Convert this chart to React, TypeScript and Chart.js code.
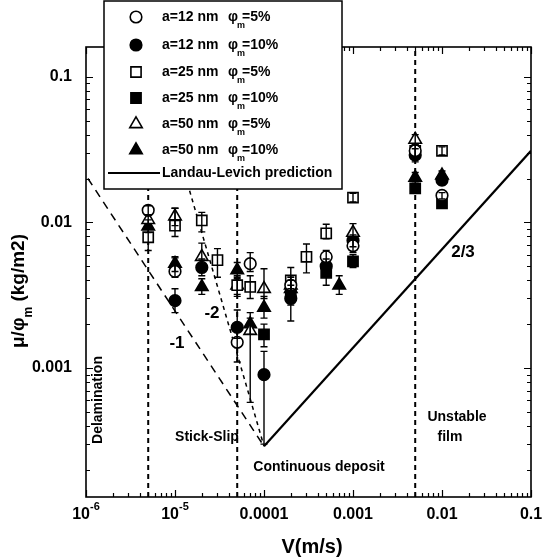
import React, { useEffect, useRef } from "react";
import { Chart, registerables } from "chart.js";

Chart.register(...registerables);

const FONT = "'Liberation Sans', Arial, Helvetica, sans-serif";

// ---- axes ----
const X_MIN = 1e-6;
const X_MAX = 0.1;
const Y_MIN = 1.3e-4;
const Y_MAX = 0.16;
const xTickValues = [1e-6, 1e-5, 1e-4, 1e-3, 1e-2, 1e-1];
const xTickBase = ["10", "10", "0.0001", "0.001", "0.01", "0.1"];
const xTickExp = ["-6", "-5", "", "", "", ""];
const yTickValues = [0.001, 0.01, 0.1];
const yTickLabels = ["0.001", "0.01", "0.1"];

// ---- data: a=12 nm, phi=5% (open circles) ----
const a12p5V = [5e-6, 1e-5, 5e-5, 7e-5, 2e-4, 5e-4, 1e-3, 5e-3, 1e-2];
const a12p5Mu = [0.0121, 0.0046, 0.0015, 0.0052, 0.0037, 0.0058, 0.0069, 0.031, 0.0153];
const a12p5Lo = [0.0112, 0.0042, 0.0011, 0.0046, 0.0033, 0.0052, 0.0062, 0.028, 0.0145];
const a12p5Hi = [0.013, 0.0057, 0.0019, 0.0062, 0.0042, 0.0064, 0.0076, 0.034, 0.016];

// a=12 nm, phi=10% (filled circles)
const a12p10V = [1e-5, 2e-5, 5e-5, 1e-4, 2e-4, 5e-4, 1e-3, 5e-3, 1e-2];
const a12p10Mu = [0.0029, 0.0049, 0.0019, 0.0009, 0.003, 0.005, 0.0075, 0.029, 0.0195];
const a12p10Lo = [0.0024, 0.0043, 0.0016, 0.0003, 0.0021, 0.0045, 0.0068, 0.026, 0.018];
const a12p10Hi = [0.0035, 0.0056, 0.0025, 0.0013, 0.0035, 0.0056, 0.0082, 0.032, 0.021];

// a=25 nm, phi=5% (open squares)
const a25p5V = [5e-6, 1e-5, 2e-5, 3e-5, 5e-5, 7e-5, 2e-4, 3e-4, 5e-4, 1e-3, 5e-3, 1e-2];
const a25p5Mu = [0.0079, 0.0095, 0.0103, 0.0055, 0.0037, 0.0036, 0.004, 0.0058, 0.0084, 0.0148, 0.031, 0.031];
const a25p5Lo = [0.0064, 0.008, 0.0086, 0.0042, 0.0031, 0.003, 0.0034, 0.0045, 0.0077, 0.0138, 0.028, 0.029];
const a25p5Hi = [0.009, 0.0125, 0.0117, 0.0066, 0.0043, 0.0043, 0.0049, 0.0071, 0.0097, 0.0158, 0.034, 0.033];

// a=25 nm, phi=10% (filled squares)
const a25p10V = [1e-4, 2e-4, 5e-4, 1e-3, 5e-3, 1e-2];
const a25p10Mu = [0.0017, 0.0032, 0.0045, 0.0054, 0.0171, 0.0135];
const a25p10Lo = [0.0014, 0.0027, 0.0037, 0.0049, 0.016, 0.0128];
const a25p10Hi = [0.002, 0.0037, 0.005, 0.006, 0.0185, 0.0142];

// a=50 nm, phi=5% (open triangles)
const a50p5V = [5e-6, 1e-5, 2e-5, 5e-5, 7e-5, 1e-4, 2e-4, 1e-3, 5e-3];
const a50p5Mu = [0.0104, 0.011, 0.0058, 0.0037, 0.0018, 0.0035, 0.0037, 0.0085, 0.037];
const a50p5Lo = [0.0095, 0.0095, 0.0051, 0.0032, 0.00058, 0.003, 0.0032, 0.0077, 0.034];
const a50p5Hi = [0.0113, 0.0125, 0.0072, 0.0042, 0.0022, 0.0048, 0.0043, 0.0098, 0.04];

// a=50 nm, phi=10% (filled triangles)
const a50p10V = [5e-6, 1e-5, 2e-5, 5e-5, 7e-5, 1e-4, 2e-4, 7e-4, 5e-3, 1e-2];
const a50p10Mu = [0.0094, 0.0052, 0.0036, 0.0047, 0.002, 0.0026, 0.0035, 0.0037, 0.0203, 0.021];
const a50p10Lo = [0.0085, 0.0046, 0.0032, 0.0041, 0.0017, 0.0022, 0.003, 0.0032, 0.0185, 0.0195];
const a50p10Hi = [0.0104, 0.0058, 0.0041, 0.0053, 0.0024, 0.0031, 0.004, 0.0043, 0.022, 0.0225];

// ---- guide lines ----
const regimeBoundaries = [5e-6, 5e-5, 5e-3];
const llV = [1e-4, 0.1];
const llMu = [2.9e-4, 0.031];
const slopeM1V = [1.05e-6, 1e-4];
const slopeM1Mu = [0.02, 2.9e-4];
const slopeM2V = [1.3e-5, 1e-4];
const slopeM2Mu = [0.021, 2.9e-4];

type Style = "circle" | "rect" | "triangle";
interface Series {
  name: string;
  phi: string;
  v: number[];
  mu: number[];
  lo: number[];
  hi: number[];
  style: Style;
  filled: boolean;
}

const SERIES: Series[] = [
  { name: "a=12 nm", phi: "=5%", v: a12p5V, mu: a12p5Mu, lo: a12p5Lo, hi: a12p5Hi, style: "circle", filled: false },
  { name: "a=12 nm", phi: "=10%", v: a12p10V, mu: a12p10Mu, lo: a12p10Lo, hi: a12p10Hi, style: "circle", filled: true },
  { name: "a=25 nm", phi: "=5%", v: a25p5V, mu: a25p5Mu, lo: a25p5Lo, hi: a25p5Hi, style: "rect", filled: false },
  { name: "a=25 nm", phi: "=10%", v: a25p10V, mu: a25p10Mu, lo: a25p10Lo, hi: a25p10Hi, style: "rect", filled: true },
  { name: "a=50 nm", phi: "=5%", v: a50p5V, mu: a50p5Mu, lo: a50p5Lo, hi: a50p5Hi, style: "triangle", filled: false },
  { name: "a=50 nm", phi: "=10%", v: a50p10V, mu: a50p10Mu, lo: a50p10Lo, hi: a50p10Hi, style: "triangle", filled: true },
];

const R_CIRCLE = 5.8;
const R_RECT = 7.2;
const R_TRI = 7.2;

function radiusFor(s: Style) {
  return s === "circle" ? R_CIRCLE : s === "rect" ? R_RECT : R_TRI;
}

function drawMarker(ctx: CanvasRenderingContext2D, style: Style, filled: boolean, x: number, y: number) {
  ctx.beginPath();
  if (style === "circle") {
    ctx.arc(x, y, R_CIRCLE, 0, Math.PI * 2);
  } else if (style === "rect") {
    const s = R_RECT * Math.SQRT1_2;
    ctx.rect(x - s, y - s, 2 * s, 2 * s);
  } else {
    const r = R_TRI;
    ctx.moveTo(x, y - r);
    ctx.lineTo(x + 0.866 * r, y + 0.5 * r);
    ctx.lineTo(x - 0.866 * r, y + 0.5 * r);
    ctx.closePath();
  }
  ctx.fillStyle = filled ? "#000" : "#fff";
  ctx.fill();
  ctx.lineWidth = 1.6;
  ctx.strokeStyle = "#000";
  ctx.stroke();
}

const customPlugin = {
  id: "customDecor",
  afterDatasetsDraw(chart: any) {
    const ctx: CanvasRenderingContext2D = chart.ctx;
    const xs = chart.scales.x;
    const ys = chart.scales.y;
    const ca = chart.chartArea;

    // error bars
    ctx.save();
    ctx.beginPath();
    ctx.rect(ca.left, ca.top, ca.right - ca.left, ca.bottom - ca.top);
    ctx.clip();
    ctx.strokeStyle = "#000";
    ctx.lineWidth = 1.4;
    for (const s of SERIES) {
      s.v.forEach((v, i) => {
        const px = xs.getPixelForValue(v);
        const pl = ys.getPixelForValue(s.lo[i]);
        const ph = ys.getPixelForValue(s.hi[i]);
        ctx.beginPath();
        ctx.moveTo(px, pl);
        ctx.lineTo(px, ph);
        ctx.moveTo(px - 3.5, pl);
        ctx.lineTo(px + 3.5, pl);
        ctx.moveTo(px - 3.5, ph);
        ctx.lineTo(px + 3.5, ph);
        ctx.stroke();
      });
    }
    ctx.restore();

    // frame
    ctx.save();
    ctx.strokeStyle = "#000";
    ctx.lineWidth = 1.6;
    ctx.strokeRect(ca.left, ca.top, ca.right - ca.left, ca.bottom - ca.top);

    // ticks
    ctx.lineWidth = 1.2;
    ctx.beginPath();
    for (let e = -6; e <= -1; e++) {
      for (let m = 1; m <= 9; m++) {
        const v = m * Math.pow(10, e);
        if (v < X_MIN * 0.999 || v > X_MAX * 1.001) continue;
        const px = Math.round(xs.getPixelForValue(v)) + 0.5;
        const len = m === 1 ? 7 : 4;
        ctx.moveTo(px, ca.bottom);
        ctx.lineTo(px, ca.bottom - len);
        ctx.moveTo(px, ca.top);
        ctx.lineTo(px, ca.top + len);
      }
    }
    for (let e = -4; e <= -1; e++) {
      for (let m = 1; m <= 9; m++) {
        const v = m * Math.pow(10, e);
        if (v < Y_MIN || v > Y_MAX) continue;
        const py = Math.round(ys.getPixelForValue(v)) + 0.5;
        const len = m === 1 ? 7 : 4;
        ctx.moveTo(ca.left, py);
        ctx.lineTo(ca.left + len, py);
        ctx.moveTo(ca.right, py);
        ctx.lineTo(ca.right - len, py);
      }
    }
    ctx.stroke();

    ctx.fillStyle = "#000";
    // x tick labels
    xTickValues.forEach((v, i) => {
      const px = xs.getPixelForValue(v);
      const base = xTickBase[i];
      const exp = xTickExp[i];
      ctx.font = `bold 16px ${FONT}`;
      const wb = ctx.measureText(base).width;
      ctx.font = `bold 11px ${FONT}`;
      const we = exp ? ctx.measureText(exp).width : 0;
      const start = px - (wb + we) / 2;
      ctx.textAlign = "left";
      ctx.textBaseline = "alphabetic";
      ctx.font = `bold 16px ${FONT}`;
      ctx.fillText(base, start, ca.bottom + 22);
      if (exp) {
        ctx.font = `bold 11px ${FONT}`;
        ctx.fillText(exp, start + wb, ca.bottom + 13);
      }
    });
    // y tick labels
    ctx.font = `bold 16px ${FONT}`;
    ctx.textAlign = "right";
    ctx.textBaseline = "middle";
    yTickValues.forEach((v, i) => {
      ctx.fillText(yTickLabels[i], ca.left - 14, ys.getPixelForValue(v));
    });

    // x title
    ctx.font = `bold 20px ${FONT}`;
    ctx.textAlign = "center";
    ctx.textBaseline = "alphabetic";
    ctx.fillText("V(m/s)", 312, 553);

    // y title (rotated, with subscript)
    ctx.save();
    ctx.translate(24, 291);
    ctx.rotate(-Math.PI / 2);
    const p1 = "\u03bc/\u03c6";
    const p2 = "m";
    const p3 = " (kg/m2)";
    ctx.font = `bold 19px ${FONT}`;
    const w1 = ctx.measureText(p1).width;
    const w3 = ctx.measureText(p3).width;
    ctx.font = `bold 12px ${FONT}`;
    const w2 = ctx.measureText(p2).width;
    const total = w1 + w2 + w3;
    let cx = -total / 2;
    ctx.textAlign = "left";
    ctx.textBaseline = "alphabetic";
    ctx.font = `bold 19px ${FONT}`;
    ctx.fillText(p1, cx, 0);
    cx += w1;
    ctx.font = `bold 12px ${FONT}`;
    ctx.fillText(p2, cx, 8);
    cx += w2;
    ctx.font = `bold 19px ${FONT}`;
    ctx.fillText(p3, cx, 0);
    ctx.restore();

    // regime labels
    ctx.font = `bold 14px ${FONT}`;
    ctx.textAlign = "center";
    ctx.textBaseline = "middle";
    ctx.fillText("Stick-Slip", 207, 437);
    ctx.fillText("Continuous deposit", 319, 467);
    ctx.fillText("Unstable", 457, 417);
    ctx.fillText("film", 450, 437);
    ctx.save();
    ctx.translate(98, 400);
    ctx.rotate(-Math.PI / 2);
    ctx.fillText("Delamination", 0, 0);
    ctx.restore();

    ctx.font = `bold 17px ${FONT}`;
    ctx.fillText("-1", 177, 343);
    ctx.fillText("-2", 212, 313);
    ctx.fillText("2/3", 463, 252);

    // legend
    const L = 104, T = 1, R = 342, B = 189;
    ctx.fillStyle = "#fff";
    ctx.fillRect(L, T, R - L, B - T);
    ctx.strokeStyle = "#000";
    ctx.lineWidth = 1.5;
    ctx.strokeRect(L, T, R - L, B - T);
    const rows = [17, 45, 72, 98, 124, 150];
    SERIES.forEach((s, i) => {
      const y = rows[i];
      drawMarker(ctx, s.style, s.filled, 136, y);
      ctx.fillStyle = "#000";
      ctx.textAlign = "left";
      ctx.textBaseline = "middle";
      ctx.font = `bold 14px ${FONT}`;
      ctx.fillText(s.name, 162, y);
      ctx.fillText("\u03c6", 228, y);
      const wphi = ctx.measureText("\u03c6").width;
      ctx.font = `bold 9px ${FONT}`;
      ctx.fillText("m", 228 + wphi - 1, y + 9);
      ctx.font = `bold 14px ${FONT}`;
      ctx.fillText(s.phi, 242, y);
    });
    ctx.beginPath();
    ctx.moveTo(108, 173);
    ctx.lineTo(160, 173);
    ctx.lineWidth = 2;
    ctx.stroke();
    ctx.fillStyle = "#000";
    ctx.font = `bold 14px ${FONT}`;
    ctx.textAlign = "left";
    ctx.textBaseline = "middle";
    ctx.fillText("Landau-Levich prediction", 162, 173);

    ctx.restore();
  },
};

export default function App() {
  const ref = useRef<HTMLCanvasElement | null>(null);
  useEffect(() => {
    document.body.style.margin = "0";
    const canvas = ref.current;
    if (!canvas) return;

    const guideDatasets: any[] = [];
    regimeBoundaries.forEach((b) => {
      guideDatasets.push({
        data: [
          { x: b, y: Y_MIN },
          { x: b, y: Y_MAX },
        ],
        showLine: true,
        borderColor: "#000",
        borderWidth: 2,
        borderDash: [5, 4],
        pointRadius: 0,
        order: 10,
      });
    });
    guideDatasets.push({
      data: slopeM1V.map((v, i) => ({ x: v, y: slopeM1Mu[i] })),
      showLine: true,
      borderColor: "#000",
      borderWidth: 1.5,
      borderDash: [8, 6],
      pointRadius: 0,
      order: 10,
    });
    guideDatasets.push({
      data: slopeM2V.map((v, i) => ({ x: v, y: slopeM2Mu[i] })),
      showLine: true,
      borderColor: "#000",
      borderWidth: 1.5,
      borderDash: [4, 4],
      pointRadius: 0,
      order: 10,
    });
    guideDatasets.push({
      data: llV.map((v, i) => ({ x: v, y: llMu[i] })),
      showLine: true,
      borderColor: "#000",
      borderWidth: 2.2,
      pointRadius: 0,
      order: 10,
    });

    const markerDatasets = SERIES.map((s) => ({
      data: s.v.map((v, i) => ({ x: v, y: s.mu[i] })),
      showLine: false,
      pointStyle: s.style,
      pointRadius: radiusFor(s.style),
      pointBackgroundColor: s.filled ? "#000" : "#fff",
      pointBorderColor: "#000",
      pointBorderWidth: 1.6,
      order: s.filled ? 2 : 1,
    }));

    const chart = new Chart(canvas, {
      type: "scatter",
      data: { datasets: [...markerDatasets, ...guideDatasets] },
      options: {
        animation: false,
        responsive: false,
        devicePixelRatio: 1,
        layout: { padding: { top: 47, right: 13, left: 0, bottom: 0 } },
        plugins: { legend: { display: false }, tooltip: { enabled: false } },
        scales: {
          x: {
            type: "logarithmic",
            min: X_MIN,
            max: X_MAX,
            ticks: { display: false },
            grid: { display: false },
            border: { display: false },
            afterFit: (scale: any) => {
              scale.height = 63;
            },
          },
          y: {
            type: "logarithmic",
            min: Y_MIN,
            max: Y_MAX,
            ticks: { display: false },
            grid: { display: false },
            border: { display: false },
            afterFit: (scale: any) => {
              scale.width = 86;
            },
          },
        },
      },
      plugins: [customPlugin],
    } as any);
    return () => chart.destroy();
  }, []);

  return <canvas ref={ref} width={544} height={560} style={{ display: "block" }} />;
}
